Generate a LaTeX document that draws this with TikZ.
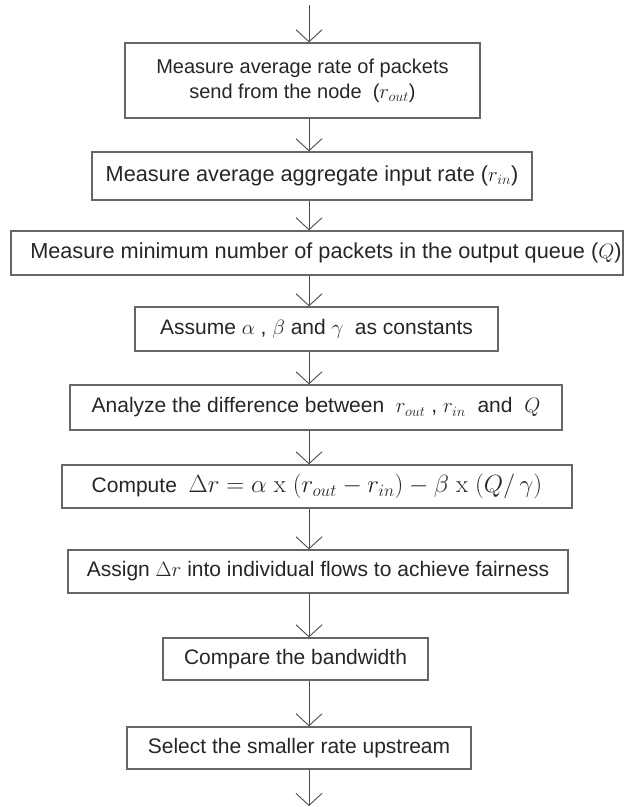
\documentclass[tikz,border=0pt]{standalone}
\usepackage[no-math]{fontspec}
\setmainfont{Liberation Sans}
\usetikzlibrary{arrows.meta}

\begin{document}
\begin{tikzpicture}[x=1pt, y=1pt,
    stage/.style={draw=black!60, line width=1.3pt, minimum height=43pt, inner sep=0pt, align=center, text=black!85, font=\fontsize{21}{25}\selectfont},
    flow/.style={-{Straight Barb[length=12pt, width=26pt]}, line width=0.9pt, draw=black!70}
]
\useasboundingbox (0,0) rectangle (626,-807);
\coordinate (ax) at (309,0);
\coordinate (top) at (309,-5);
\coordinate (bot) at (309,-806);

\node[stage, minimum width=355pt, minimum height=75pt, font=\fontsize{20}{25}\selectfont] (rout) at (302.5,-80.5) {Measure average rate of packets\\send from the node \ ($r_{out}$)};
\node[stage, minimum width=440pt, minimum height=48pt, font=\fontsize{21.7}{25}\selectfont] (rin) at (312,-176) {Measure average aggregate input rate ($r_{in}$)};
\node[stage, minimum width=612pt, minimum height=44pt, font=\fontsize{21.7}{25}\selectfont] (queue) at (317,-253) {\hspace*{18pt}Measure minimum number of packets in the output queue ($Q$)};
\node[stage, minimum width=363pt, minimum height=44pt] (const) at (316.5,-329) {Assume $\alpha$ , $\beta$ and $\gamma$ \ as constants};
\node[stage, minimum width=492pt, minimum height=45pt] (diff) at (316,-407.5) {Analyze the difference between \ $r_{out}$ , $r_{in}$ \ and \ $Q$};
\node[stage, minimum width=510pt] (comp) at (317,-486.5) {Compute \ {\fontsize{25}{25}\selectfont$\Delta r=\alpha\ \mathrm{x}\ (r_{out}-r_{in})-\beta\ \mathrm{x}\ (Q/\,\gamma)$}};
\node[stage, minimum width=500pt] (assign) at (318,-571.5) {Assign $\Delta r$ into individual flows to achieve fairness};
\node[stage, minimum width=265pt, minimum height=42pt] (bw) at (295.5,-659) {Compare the bandwidth};
\node[stage, minimum width=344pt, minimum height=42pt] (select) at (299,-748) {Select the smaller rate upstream};

\draw[flow] (top) -- (rout.north -| ax);
\draw[flow] (rout.south -| ax) -- (rin.north -| ax);
\draw[flow] (rin.south -| ax) -- (queue.north -| ax);
\draw[flow] (queue.south -| ax) -- (const.north -| ax);
\draw[flow] (const.south -| ax) -- (diff.north -| ax);
\draw[flow] (diff.south -| ax) -- (comp.north -| ax);
\draw[flow] (comp.south -| ax) -- (assign.north -| ax);
\draw[flow] (assign.south -| ax) -- (bw.north -| ax);
\draw[flow] (bw.south -| ax) -- (select.north -| ax);
\draw[flow] (select.south -| ax) -- (bot);
\end{tikzpicture}
\end{document}
